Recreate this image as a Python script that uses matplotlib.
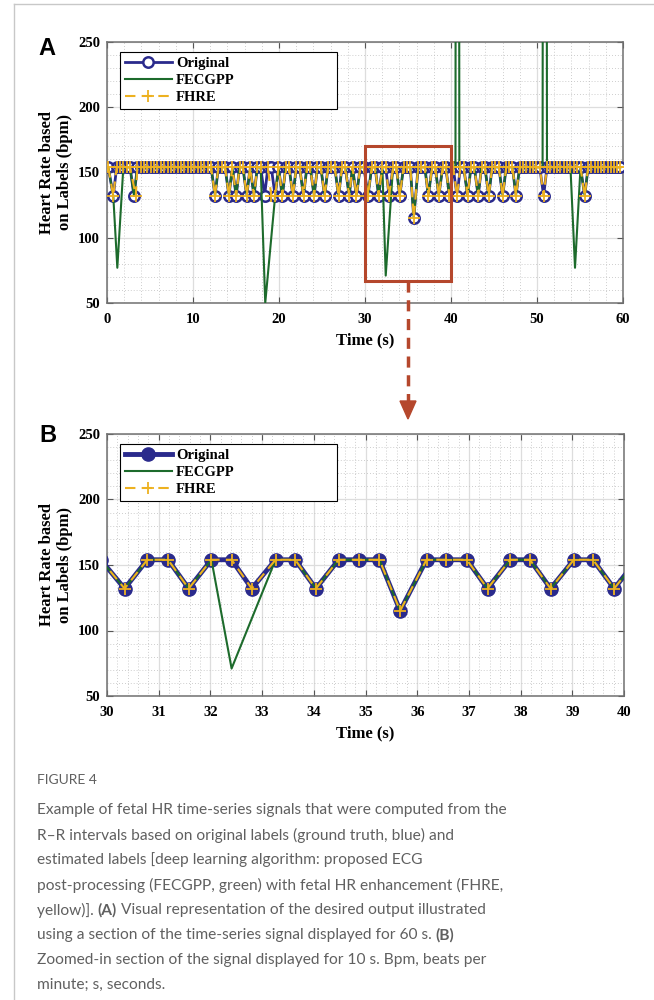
import matplotlib
matplotlib.use('Agg')
import matplotlib.pyplot as plt
from matplotlib.lines import Line2D
from matplotlib.patches import Rectangle, Polygon
from matplotlib.ticker import MultipleLocator

#%% DATA
# beat times (s) of the original labels, grouped by heart rate (bpm)
t_154 = [0.15,
         1.12, 1.51, 1.90, 2.29, 2.68,
         3.53, 3.92, 4.31, 4.70, 5.09, 5.48, 5.87, 6.26, 6.65, 7.04, 7.43, 7.82,
         8.21, 8.60, 8.99, 9.38, 9.77, 10.16, 10.55, 10.94, 11.33, 11.72, 12.11,
         12.95, 13.34, 13.73, 14.57, 15.41, 15.80, 16.64, 17.48, 17.87,
         18.71, 19.10, 19.94, 20.78, 21.17, 22.01, 22.40, 23.24, 23.63,
         24.47, 24.86, 25.70, 26.09, 26.48, 27.32, 27.71, 28.55, 29.45, 29.88,
         30.78, 31.18, 32.02, 32.41, 33.26, 33.64, 34.48, 34.88, 35.27,
         36.18, 36.56, 36.96, 37.80, 38.18, 39.03, 39.40,
         40.25, 41.09, 41.48, 42.32, 42.71, 43.55, 43.94, 44.78, 45.17, 45.56,
         46.42, 46.80, 47.15, 47.98, 48.37, 48.76, 49.15, 49.54, 49.93, 50.32,
         51.16, 51.55, 51.94, 52.33, 52.72, 53.11, 53.50, 53.89, 54.28, 54.67, 55.06,
         55.94, 56.32, 56.70, 57.08, 57.46, 57.84, 58.22, 58.60, 58.98, 59.36, 59.70]
t_132 = [0.73, 3.14, 12.56, 14.18, 15.02, 16.25, 17.09, 18.32, 19.55, 20.39,
         21.62, 22.85, 24.08, 25.31, 26.93, 28.16, 29.00, 30.34, 31.58, 32.80,
         34.04, 37.36, 38.58, 39.81, 40.70, 41.93, 43.16, 44.39, 46.01, 47.55,
         50.77, 55.55]
t_115 = [35.67]

# FECGPP = original labels with these beats removed / added
fec_drop = [1.12, 1.51, 18.32, 18.71, 19.10, 32.41, 32.80, 40.70, 50.77, 54.28, 54.67]
fec_add_t = [1.20, 18.40, 32.41, 40.52, 40.74, 40.97, 50.65, 50.90, 54.42]
fec_add_hr = [77, 50, 71, 154, 2000, 154, 154, 2000, 77]

# FHRE = original labels with these beats changed
fhre_drop = [3.14, 18.32]
fhre_add_t = [3.35, 19.10]
fhre_add_hr = [132, 132]

zoom_t = [30, 40]
zoom_hr = [66.5, 170]

caption = ["Example of fetal HR time-series signals that were computed from the",
           "R\u2013R intervals based on original labels (ground truth, blue) and",
           "estimated labels [deep learning algorithm: proposed ECG",
           "post-processing (FECGPP, green) with fetal HR enhancement (FHRE,",
           [("yellow)]. ", "normal"), ("(A)", "bold"),
            (" Visual representation of the desired output illustrated", "normal")],
           [("using a section of the time-series signal displayed for 60 s. ", "normal"),
            ("(B)", "bold")],
           "Zoomed-in section of the signal displayed for 10 s. Bpm, beats per",
           "minute; s, seconds."]

#%% SERIES
orig = {t: 154 for t in t_154}
orig.update({t: 132 for t in t_132})
orig.update({t: 115 for t in t_115})


def series(base, drop, add_t, add_hr):
    s = {t: v for t, v in base.items() if t not in drop}
    s.update(zip(add_t, add_hr))
    ts = sorted(s)
    return ts, [s[t] for t in ts]


o_t, o_hr = series(orig, [], [], [])
f_t, f_hr = series(orig, fec_drop, fec_add_t, fec_add_hr)
h_t, h_hr = series(orig, fhre_drop, fhre_add_t, fhre_add_hr)

BLUE = '#2a2a8c'
GREEN = '#1d6b2c'
YELLOW = '#edb120'
RED = '#b5472c'
SERIF = 'Liberation Serif'

fig = plt.figure(figsize=(6.54, 10), dpi=100)
W, H = 654, 1000


def px_axes(l, t, r, b):
    return fig.add_axes([l / W, 1 - b / H, (r - l) / W, (b - t) / H])


def plot_panel(ax, xlim, xmajor, xminor, big):
    if big:
        ax.plot(o_t, o_hr, color=BLUE, lw=3.5, marker='o', ms=9.5, mfc=BLUE,
                mec=BLUE, label='Original', zorder=3)
    else:
        ax.plot(o_t, o_hr, color=BLUE, lw=2, marker='o', ms=7.5, mfc='white',
                mec=BLUE, mew=1.8, label='Original', zorder=3)
    ax.plot(f_t, f_hr, color=GREEN, lw=1.5, label='FECGPP', zorder=4)
    ax.plot(h_t, h_hr, color=YELLOW, lw=1.5, ls=(0, (5, 3)), marker='+', ms=8,
            mew=1.3, label='FHRE', zorder=5)
    ax.set_xlim(xlim)
    ax.set_ylim(50, 250)
    ax.xaxis.set_major_locator(MultipleLocator(xmajor))
    ax.xaxis.set_minor_locator(MultipleLocator(xminor))
    ax.yaxis.set_major_locator(MultipleLocator(50))
    ax.yaxis.set_minor_locator(MultipleLocator(10))
    ax.grid(True, which='major', color='#dddddd', lw=0.9)
    ax.grid(True, which='minor', color='#bdbdbd', lw=0.6, ls=(0, (1, 2.5)))
    ax.set_axisbelow(True)
    ax.tick_params(which='both', direction='in', top=True, right=True,
                   color='#555555')
    ax.tick_params(which='major', length=4, width=0.8)
    ax.tick_params(which='minor', length=0)
    ax.tick_params(axis='x', pad=7)
    ax.tick_params(axis='y', pad=5)
    for s in ax.spines.values():
        s.set_color('#707070')
        s.set_linewidth(1.1)
    for lab in ax.get_xticklabels() + ax.get_yticklabels():
        lab.set_fontfamily(SERIF)
        lab.set_fontweight('bold')
        lab.set_fontsize(10.5)
    ax.set_ylabel('Heart Rate based\non Labels (bpm)', fontfamily=SERIF,
                  fontweight='bold', fontsize=12, linespacing=1.15, va='center')
    ax.yaxis.set_label_coords(-0.099, 0.5)
    ax.set_xlabel('Time (s)', fontfamily=SERIF, fontweight='bold', fontsize=12,
                  va='center')
    ax.xaxis.set_label_coords(0.5, -0.142)
    leg = ax.legend(loc='upper left', bbox_to_anchor=(0.025, 0.3, 0.42, 0.662),
                    mode='expand', borderaxespad=0, fancybox=False,
                    edgecolor='black', framealpha=1, handlelength=3.2,
                    handletextpad=0.3, borderpad=0.35, labelspacing=0.24,
                    prop={'family': SERIF, 'weight': 'bold', 'size': 10.5})
    leg.get_frame().set_linewidth(0.8)


axA = px_axes(107, 42, 623, 303)
plot_panel(axA, (0, 60), 10, 2, False)
axA.add_patch(Rectangle((zoom_t[0], zoom_hr[0]), zoom_t[1] - zoom_t[0],
                        zoom_hr[1] - zoom_hr[0], fill=False, ec=RED, lw=2.2,
                        zorder=6))

axB = px_axes(107, 434, 624, 696)
plot_panel(axB, (30, 40), 1, 0.2, True)

# dashed arrow from the zoom box to panel B
x0, y0 = axA.transData.transform((sum(zoom_t) / 2, zoom_hr[0]))
xf, yf = x0 / W, y0 / H
fig.add_artist(Line2D([xf, xf], [yf, 1 - 402 / H], transform=fig.transFigure,
                      color=RED, lw=2.5, ls=(0, (3.2, 2.2))))
fig.add_artist(Polygon([(xf - 8 / W, 1 - 401 / H), (xf + 8 / W, 1 - 401 / H),
                        (xf, 1 - 419 / H)], closed=True,
                       transform=fig.transFigure, color=RED))

fig.text(38 / W, 1 - 55 / H, 'A', fontfamily='Liberation Sans',
         fontweight='bold', fontsize=17, va='baseline')
fig.text(39 / W, 1 - 442 / H, 'B', fontfamily='Liberation Sans',
         fontweight='bold', fontsize=17, va='baseline')

# page frame
fig.add_artist(Line2D([14 / W, 14 / W], [0, 1 - 4 / H], transform=fig.transFigure,
                      color='#c8c8c8', lw=1))
fig.add_artist(Line2D([14 / W, 1], [1 - 4 / H, 1 - 4 / H],
                      transform=fig.transFigure, color='#c8c8c8', lw=1))

#%% CAPTION
CAP = 'Lato'
GRAY = '#606060'
fig.text(37 / W, 1 - 780 / H, 'FIGURE 4', fontfamily=CAP, fontsize=10,
         color=GRAY, va='center')
r = fig.canvas.get_renderer()
for i, line in enumerate(caption):
    y = 1 - (810 + 25 * i) / H
    if isinstance(line, str):
        fig.text(37 / W, y, line, fontfamily=CAP, fontsize=11.2, color=GRAY,
                 va='center')
    else:
        x = 37 / W
        for txt, wt in line:
            t = fig.text(x, y, txt, fontfamily=CAP, fontsize=11.2, color=GRAY,
                         fontweight=wt, va='center')
            x = t.get_window_extent(renderer=r).x1 / W

fig.savefig('out.png', dpi=100)
